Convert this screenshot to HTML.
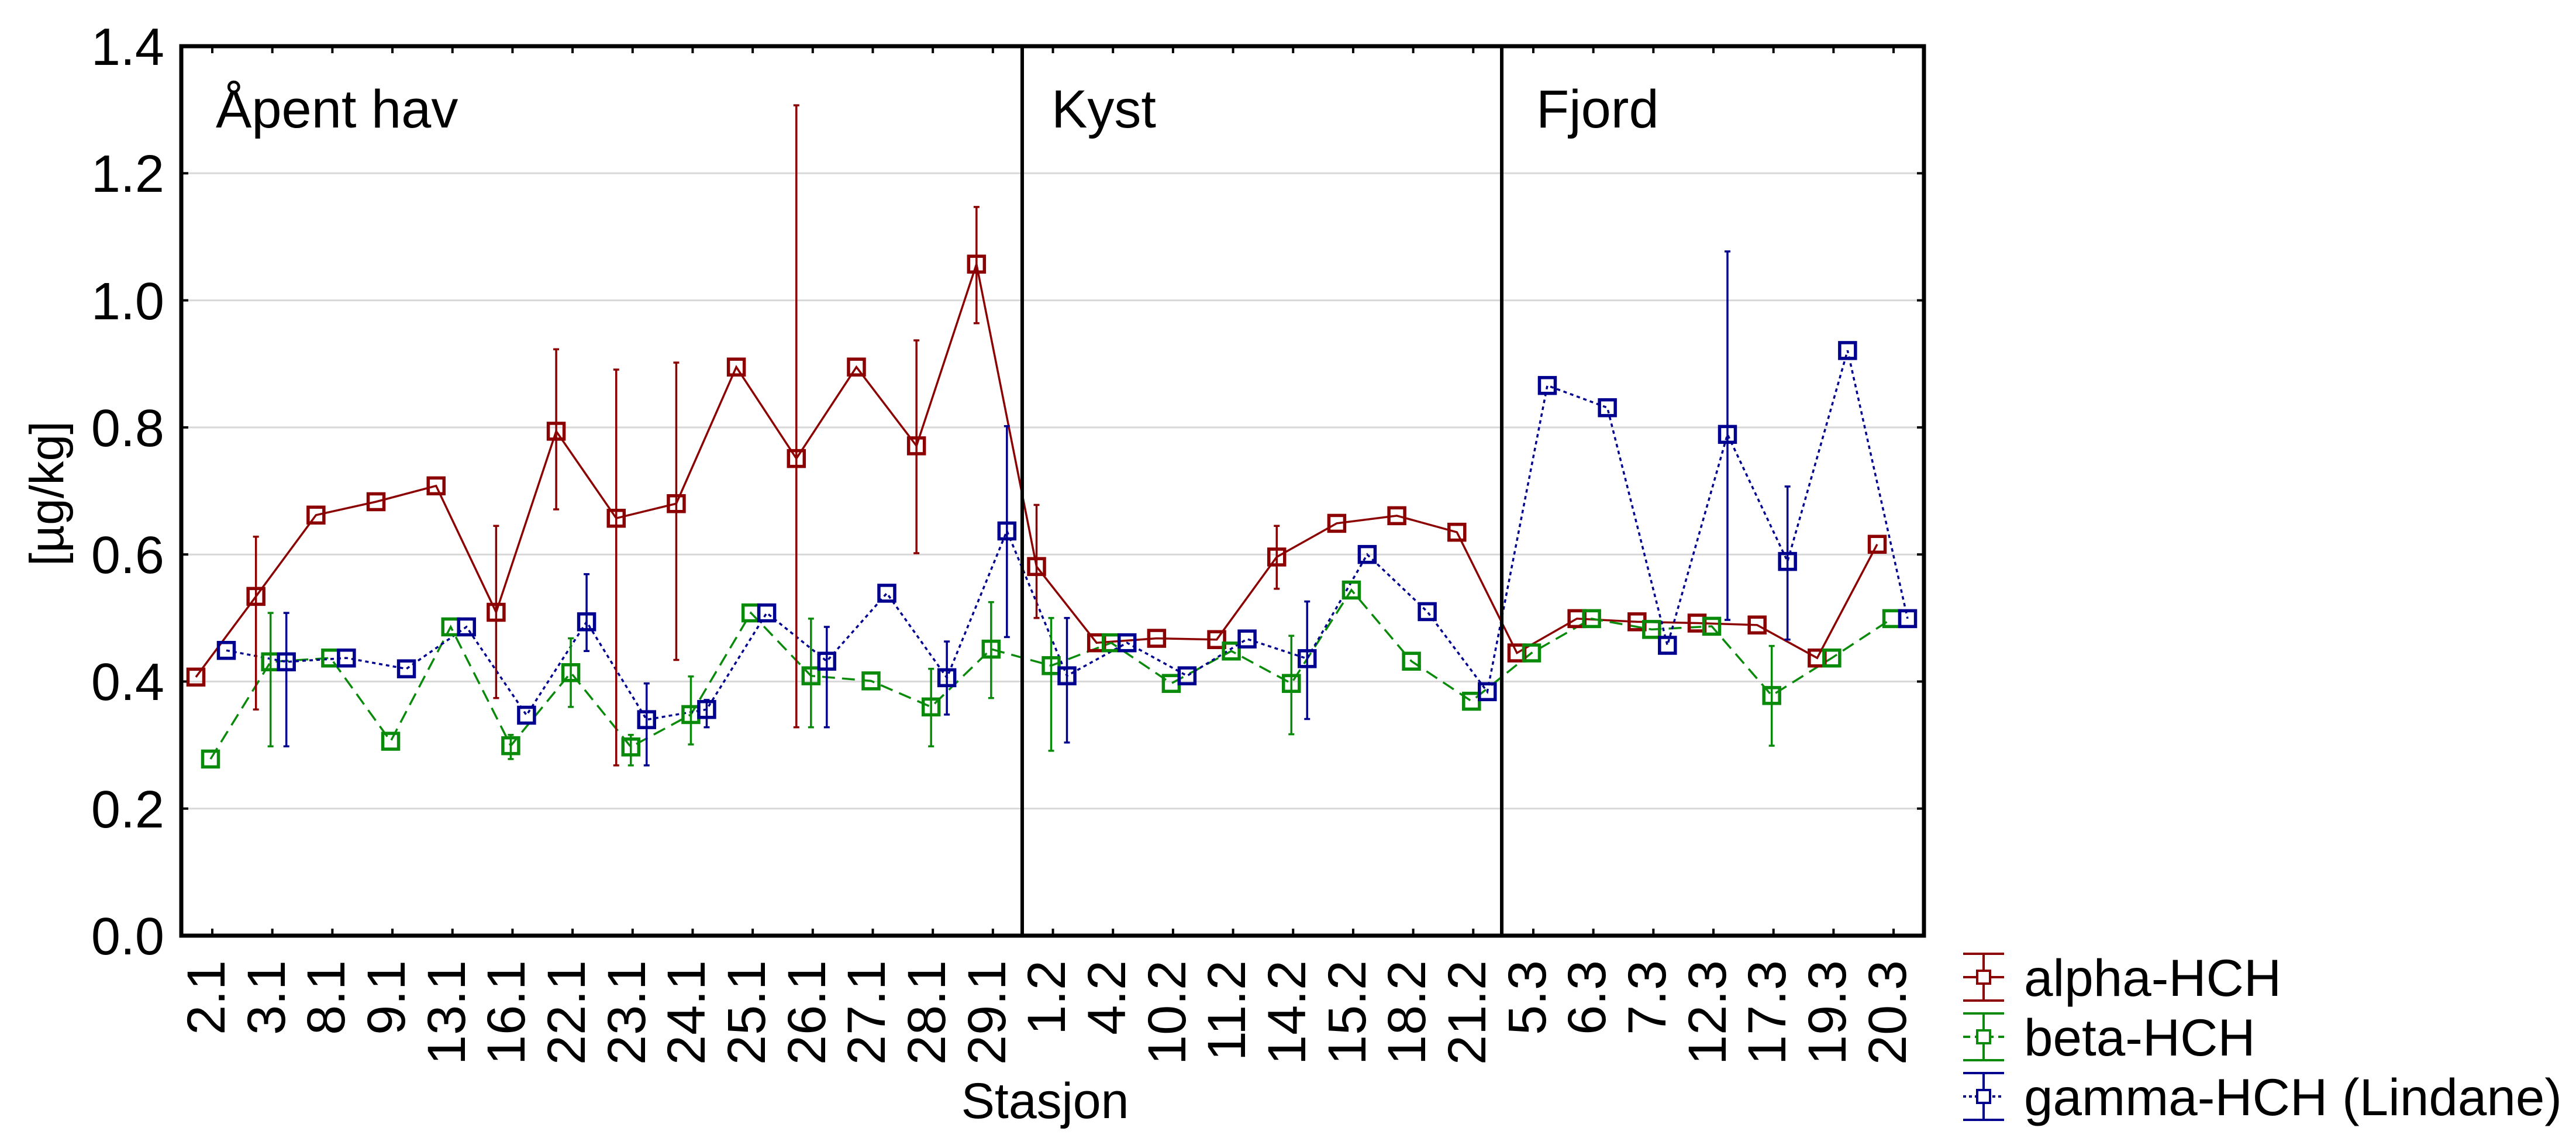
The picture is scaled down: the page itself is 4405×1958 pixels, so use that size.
<!DOCTYPE html>
<html><head><meta charset="utf-8"><style>
html,body{margin:0;padding:0;background:#fff}
svg{display:block}
text{font-family:"Liberation Sans",sans-serif;fill:#000}
</style></head><body>
<svg id="s" width="4405" height="1958" viewBox="0 0 4405 1958" xmlns="http://www.w3.org/2000/svg">
<g id="grid" stroke="#d8d8d8" stroke-width="3">
<line x1="310" x2="3290" y1="1382.7" y2="1382.7"/>
<line x1="310" x2="3290" y1="1165.4" y2="1165.4"/>
<line x1="310" x2="3290" y1="948.2" y2="948.2"/>
<line x1="310" x2="3290" y1="730.9" y2="730.9"/>
<line x1="310" x2="3290" y1="513.6" y2="513.6"/>
<line x1="310" x2="3290" y1="296.3" y2="296.3"/>
</g>
<g id="ticks" stroke="#000" stroke-width="4"></g>
<g id="data"></g>
<rect x="310" y="79" width="2980" height="1521" fill="none" stroke="#000" stroke-width="7"/>
<line x1="1748" x2="1748" y1="79" y2="1600" stroke="#000" stroke-width="6"/>
<line x1="2568" x2="2568" y1="79" y2="1600" stroke="#000" stroke-width="6"/>
<g font-size="90" text-anchor="end">
<text x="281" y="1632">0.0</text>
<text x="281" y="1415">0.2</text>
<text x="281" y="1197">0.4</text>
<text x="281" y="980">0.6</text>
<text x="281" y="763">0.8</text>
<text x="281" y="546">1.0</text>
<text x="281" y="328">1.2</text>
<text x="281" y="111">1.4</text>
</g>
<text x="0" y="0" font-size="82" text-anchor="middle" transform="translate(108,844) rotate(-90)">[µg/kg]</text>
<g font-size="92">
<text x="369" y="218">Åpent hav</text>
<text x="1798" y="218">Kyst</text>
<text x="2627" y="218">Fjord</text>
</g>
<g font-size="92" text-anchor="end">
<text transform="translate(384,1642) rotate(-90)">2.1</text>
<text transform="translate(487,1642) rotate(-90)">3.1</text>
<text transform="translate(589,1642) rotate(-90)">8.1</text>
<text transform="translate(692,1642) rotate(-90)">9.1</text>
<text transform="translate(795,1642) rotate(-90)">13.1</text>
<text transform="translate(897,1642) rotate(-90)">16.1</text>
<text transform="translate(1000,1642) rotate(-90)">22.1</text>
<text transform="translate(1103,1642) rotate(-90)">23.1</text>
<text transform="translate(1205,1642) rotate(-90)">24.1</text>
<text transform="translate(1308,1642) rotate(-90)">25.1</text>
<text transform="translate(1411,1642) rotate(-90)">26.1</text>
<text transform="translate(1513,1642) rotate(-90)">27.1</text>
<text transform="translate(1616,1642) rotate(-90)">28.1</text>
<text transform="translate(1719,1642) rotate(-90)">29.1</text>
<text transform="translate(1821,1642) rotate(-90)">1.2</text>
<text transform="translate(1924,1642) rotate(-90)">4.2</text>
<text transform="translate(2027,1642) rotate(-90)">10.2</text>
<text transform="translate(2129,1642) rotate(-90)">11.2</text>
<text transform="translate(2232,1642) rotate(-90)">14.2</text>
<text transform="translate(2335,1642) rotate(-90)">15.2</text>
<text transform="translate(2437,1642) rotate(-90)">18.2</text>
<text transform="translate(2540,1642) rotate(-90)">21.2</text>
<text transform="translate(2643,1642) rotate(-90)">5.3</text>
<text transform="translate(2745,1642) rotate(-90)">6.3</text>
<text transform="translate(2848,1642) rotate(-90)">7.3</text>
<text transform="translate(2951,1642) rotate(-90)">12.3</text>
<text transform="translate(3053,1642) rotate(-90)">17.3</text>
<text transform="translate(3156,1642) rotate(-90)">19.3</text>
<text transform="translate(3259,1642) rotate(-90)">20.3</text>
</g>
<text x="1787" y="1912" font-size="86" text-anchor="middle">Stasjon</text>
<g font-size="89">
<text x="3461" y="1703">alpha-HCH</text>
<text x="3461" y="1805">beta-HCH</text>
<text x="3461" y="1907">gamma-HCH (Lindane)</text>
</g>
<g id="leg" stroke-width="4" fill="none"></g>
</svg>
<script>
(function(){
var NS="http://www.w3.org/2000/svg";
function el(p,t,a){var e=document.createElementNS(NS,t);for(var k in a)e.setAttribute(k,a[k]);p.appendChild(e);return e;}
var X=function(i){return 363+102.68*i;}, Y=function(v){return 1600-1086.4*v;};
var tk=document.getElementById('ticks');
for(var i=0;i<29;i++){var x=X(i);el(tk,'line',{x1:x,x2:x,y1:1600,y2:1588});el(tk,'line',{x1:x,x2:x,y1:79,y2:91});}
for(var v=0.2;v<1.39;v+=0.2){var y=Y(v);el(tk,'line',{x1:310,x2:322,y1:y,y2:y});el(tk,'line',{x1:3290,x2:3278,y1:y,y2:y});}
var A=[[.407],[.534,.628,.356],[.662],[.683],[.708],[.509,.645,.374],[.794,.923,.671],[.657,.891,.268],[.68,.902,.434],[.895],[.751,1.307,.328],[.895],[.771,.937,.602],[1.057,1.147,.964],
[.581,.678,.500],[.461],[.468],[.466],[.596,.645,.546],[.649],[.661],[.635],
[.445],[.499],[.494],[.492],[.489],[.437],[.616]];
var B=[[.278],[.431,.508,.298],[.437],[.306],[.486],[.299,.316,.278],[.414,.468,.36],[.297,.316,.268],[.348,.408,.301],[.508],[.409,.499,.328],[.401],[.36,.42,.298],[.451,.525,.374],
[.425,.50,.291],[.461],[.397],[.448],[.397,.472,.317],[.544],[.432],[.369],
[.445],[.499],[.482],[.487],[.378,.456,.299],[.437],[.499]];
var G=[[.449],[.431,.508,.298],[.437],[.42],[.486],[.347],[.494,.569,.448],[.34,.397,.268],[.356,.371,.328],[.508],[.432,.486,.328],[.539],[.406,.463,.348],[.637,.802,.47],
[.409,.50,.304],[.461],[.409],[.467],[.436,.526,.341],[.6],[.51],[.384],
[.866],[.831],[.457],[.789,1.077,.497],[.589,.707,.466],[.921],[.499]];
var D=document.getElementById('data');
var S=[[A,-28,'#8b0000',''],[B,-3,'#0a8a0a','22 12'],[G,24,'#00008f','6 6']];
S.forEach(function(s){
 var d=s[0],off=s[1],c=s[2],da=s[3],pts=[];
 d.forEach(function(p,i){pts.push((X(i)+off).toFixed(1)+','+Y(p[0]).toFixed(1));});
 var pl={points:pts.join(' '),fill:'none',stroke:c,'stroke-width':3.5};if(da)pl['stroke-dasharray']=da;
 el(D,'polyline',pl);
});
S.forEach(function(s){
 var d=s[0],off=s[1],c=s[2];
 d.forEach(function(p,i){var x=X(i)+off;
  if(p.length>1){el(D,'line',{x1:x,x2:x,y1:Y(p[1]),y2:Y(p[2]),stroke:c,'stroke-width':3.5});
   el(D,'line',{x1:x-5,x2:x+5,y1:Y(p[1]),y2:Y(p[1]),stroke:c,'stroke-width':3.5});
   el(D,'line',{x1:x-5,x2:x+5,y1:Y(p[2]),y2:Y(p[2]),stroke:c,'stroke-width':3.5});}
  el(D,'rect',{x:x-13.5,y:Y(p[0])-13.5,width:27,height:27,fill:'none',stroke:c,'stroke-width':5.5});
 });
});
var L=document.getElementById('leg');
[[1671,'#8b0000',''],[1773,'#0a8a0a','12 8'],[1875,'#00008f','5 5']].forEach(function(r){
 var y=r[0],c=r[1],x=3392;
 el(L,'line',{x1:x,x2:x,y1:y-40,y2:y+40,stroke:c});
 el(L,'line',{x1:x-35,x2:x+35,y1:y-40,y2:y-40,stroke:c});
 el(L,'line',{x1:x-35,x2:x+35,y1:y+40,y2:y+40,stroke:c});
 var h={x1:x-35,x2:x+35,y1:y,y2:y,stroke:c};if(r[2])h['stroke-dasharray']=r[2];el(L,'line',h);
 el(L,'rect',{x:x-11,y:y-11,width:22,height:22,stroke:c,fill:'#fff'});
});
})();
</script>
</body></html>
